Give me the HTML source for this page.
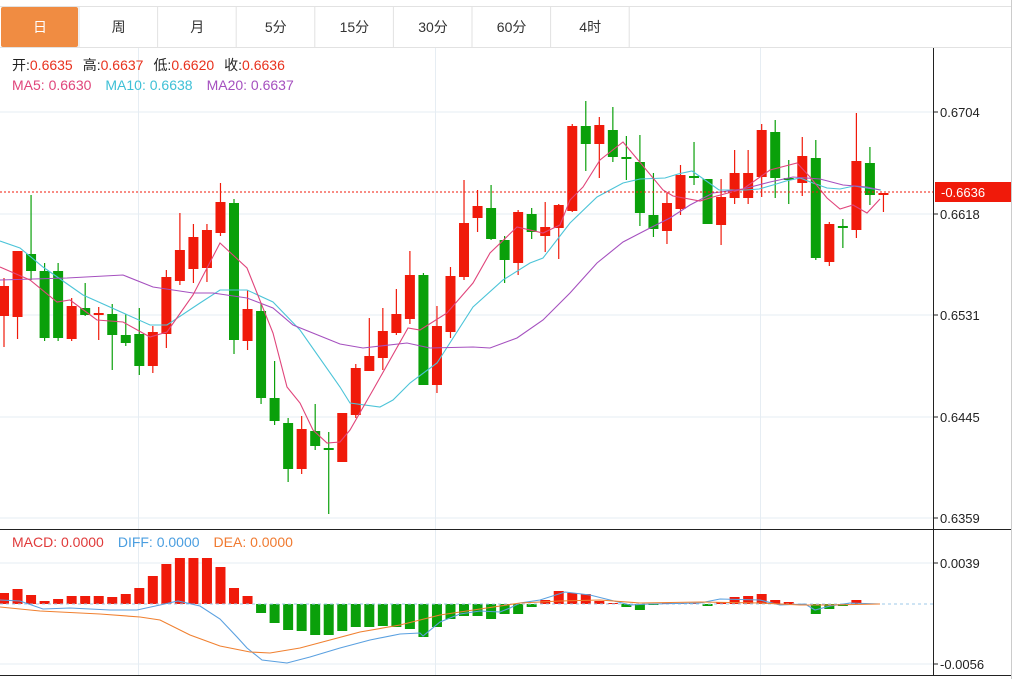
<!DOCTYPE html>
<html><head><meta charset="utf-8"><style>
body{margin:0;background:#fff;width:1023px;height:679px;overflow:hidden;font-family:"Liberation Sans","Noto Sans CJK SC",sans-serif}
svg{position:absolute;left:0;top:0}
</style></head><body>
<svg id="s" width="1023" height="679" xmlns="http://www.w3.org/2000/svg" font-family="Liberation Sans, Noto Sans CJK SC, sans-serif">
<rect width="1023" height="679" fill="#fff"/>
<g id="g"></g>
</svg>
<script>
const g=document.getElementById('g');let h='';
h+='<line x1="0" y1="6.5" x2="1011" y2="6.5" stroke="#e2e2e2"/>';
h+='<line x1="0" y1="47.5" x2="1011" y2="47.5" stroke="#e2e2e2"/>';
const tabs=['日','周','月','5分','15分','30分','60分','4时'];
tabs.forEach((t,i)=>{const x=1+i*78.6;
 if(i==0)h+='<rect x="1" y="7" width="77" height="40" rx="2" fill="#f08c42"/>';
 h+='<line x1="'+(x+78)+'" y1="7" x2="'+(x+78)+'" y2="47" stroke="#e2e2e2"/>';
 h+='<text x="'+(x+39)+'" y="32" font-size="14" text-anchor="middle" fill="'+(i==0?'#fff':'#333')+'">'+t+'</text>';});
[112,214,315,417,518].forEach(y=>h+='<line x1="0" y1="'+y+'" x2="933" y2="'+y+'" stroke="#e6edf3"/>');
[563,664].forEach(y=>h+='<line x1="0" y1="'+y+'" x2="933" y2="'+y+'" stroke="#e6edf3"/>');
[138.5,435.5,760.5].forEach(x=>h+='<line x1="'+x+'" y1="48" x2="'+x+'" y2="675" stroke="#e6edf3"/>');
h+='<line x1="933.5" y1="48" x2="933.5" y2="675" stroke="#222"/>';
h+='<line x1="1011.5" y1="0" x2="1011.5" y2="679" stroke="#ccc"/>';
h+='<line x1="0" y1="529.5" x2="1011" y2="529.5" stroke="#222"/>';
h+='<line x1="0" y1="675.5" x2="1011" y2="675.5" stroke="#222"/>';
[[112,'0.6704'],[214,'0.6618'],[315,'0.6531'],[417,'0.6445'],[518,'0.6359'],[563,'0.0039'],[664,'-0.0056']].forEach(([y,t])=>{
 h+='<line x1="933" y1="'+y+'" x2="938" y2="'+y+'" stroke="#222"/><text x="940" y="'+(y+5)+'" font-size="13" fill="#222">'+t+'</text>';});
const C=[[316,286,278,347],[317,251,251,339],[254,271,195,280],[271,338,263,341],[271,338,263,341],[339,306,298,341],[308,315,283,316],[315,313,307,340],[314,335,304,370],[335,343,314,346],[334,366,308,375],[366,332,326,373],[334,277,270,348],[281,250,213,285],[269,237,224,283],[268,230,224,282],[233,202,183,236],[203,340,199,354],[341,309,290,350],[311,398,303,404],[398,421,361,425],[423,469,418,482],[469,429,416,474],[431,446,404,450],[448,449,432,514],[462,413,413,462],[415,368,364,418],[371,356,318,371],[358,331,308,370],[333,314,289,335],[319,275,251,324],[275,385,273,385],[385,326,306,393],[332,276,267,338],[277,223,180,280],[218,206,190,232],[208,239,185,240],[240,260,236,283],[263,212,210,275],[214,232,208,239],[236,227,202,252],[228,205,204,259],[211,126,124,212],[126,144,101,171],[144,125,117,178],[130,157,107,162],[157,159,136,180],[162,213,135,226],[215,229,173,237],[231,203,193,244],[209,175,165,215],[176,178,142,185],[179,224,179,224],[225,197,179,245],[198,173,150,204],[198,173,150,204],[177,130,124,197],[132,178,120,198],[178,180,160,204],[183,156,137,196],[158,258,140,260],[262,224,222,266],[226,228,219,248],[230,161,113,238],[163,195,147,205],[194,193,193,212]];
const X=i=>4+i*13.53;
C.forEach((c,i)=>{const[o,cl,hi,lo]=c;const up=cl<o;const col=up?'#f01a0a':'#0aa00a';const x=X(i);
 h+='<line x1="'+x+'" y1="'+hi+'" x2="'+x+'" y2="'+lo+'" stroke="'+col+'" stroke-width="1.2"/>';
 const t=Math.min(o,cl),b=Math.max(o,cl);h+='<rect x="'+(x-5)+'" y="'+t+'" width="10" height="'+Math.max(b-t,2)+'" fill="'+col+'"/>';});
const pl=(p,c)=>h+='<polyline fill="none" stroke="'+c+'" stroke-width="1.1" points="'+p.map(q=>q.join(',')).join(' ')+'"/>';
pl([[0,241],[20,248],[43,267],[83,295],[150,325],[167,325],[200,303],[220,290],[247,290],[273,302],[300,330],[340,387],[350,403],[380,407],[393,400],[410,383],[437,363],[473,307],[503,280],[530,263],[543,258],[570,223],[597,197],[623,183],[640,179],[665,178],[678,174],[692,171],[705,180],[719,190],[746,190],[759,189],[773,185],[786,181],[800,178],[813,183],[827,188],[840,189],[854,186],[867,188],[881,190]],'#4cc4d8');
pl([[0,280],[67,278],[123,275],[153,287],[193,293],[213,293],[247,298],[273,308],[293,325],[340,344],[363,348],[407,343],[430,348],[473,347],[490,348],[517,338],[543,320],[570,293],[597,263],[623,242],[650,228],[670,218],[690,205],[713,193],[743,189],[770,182],[793,177],[820,179],[843,185],[867,187],[880,190]],'#a550bf');
pl([[0,267],[30,280],[57,302],[70,300],[97,320],[123,322],[150,337],[167,332],[193,295],[220,243],[247,268],[273,333],[287,387],[300,403],[313,430],[327,443],[340,442],[350,430],[373,390],[408,328],[420,330],[447,313],[473,283],[490,253],[517,227],[543,233],[560,225],[570,200],[583,187],[600,160],[623,142],[663,190],[673,196],[700,201],[713,197],[743,189],[770,170],[797,163],[810,177],[827,198],[840,209],[853,205],[867,213],[880,199]],'#e0457b');
h+='<line x1="0" y1="192" x2="933" y2="192" stroke="#f01a0a" stroke-dasharray="2,2"/>';
h+='<rect x="935" y="182" width="76" height="20" fill="#f01a0a"/><text x="941" y="197" font-size="13" fill="#fff">-0.6636</text>';
const M=[593,589,595,601,599,596,596,596,597,594,588,576,564,558,558,558,567,588,596,613,623,630,631,635,635,631,627,627,626,627,629,637,627,619,616,616,619,614,614,607,600,591,593,594,601,603,607,610,605,603,603,603,606,602,597,596,594,600,602,604,614,609,606,600,604,604];
const Z=604;
M.forEach((y,i)=>{const x=X(i);const up=y<Z;const t=Math.min(y,Z),b=Math.max(y,Z);
 if(b-t>0.5)h+='<rect x="'+(x-5)+'" y="'+t+'" width="10" height="'+(b-t)+'" fill="'+(up?'#f01a0a':'#0aa00a')+'"/>';});
h+='<line x1="0" y1="604" x2="933" y2="604" stroke="#9cc8e8" stroke-dasharray="3,3"/>';
pl([[0,600],[20,601],[43,609],[70,608],[110,610],[137,610],[160,605],[178,601],[200,606],[220,619],[237,637],[247,648],[262,660],[287,663],[310,657],[340,648],[370,640],[400,634],[420,633],[423,636],[440,622],[460,614],[480,611],[500,612],[510,608],[520,603],[540,600],[565,592],[590,595],[610,600],[630,605],[650,604],[700,603],[720,599],[760,600],[780,605],[805,604],[815,610],[830,606],[850,603],[880,604]],'#5aa0e0');
pl([[0,607],[40,611],[100,614],[140,617],[160,620],[190,635],[220,646],[250,652],[270,653],[300,648],[330,640],[360,632],[400,625],[440,615],[480,609],[520,603],[560,601],[600,600],[640,603],[700,602],[760,603],[800,605],[830,605],[880,604]],'#f08030');
h+='<text y="70" font-size="14"><tspan x="12" fill="#222">开:</tspan><tspan fill="#e8321e">0.6635</tspan><tspan dx="10" fill="#222">高:</tspan><tspan fill="#e8321e">0.6637</tspan><tspan dx="10" fill="#222">低:</tspan><tspan fill="#e8321e">0.6620</tspan><tspan dx="10" fill="#222">收:</tspan><tspan fill="#e8321e">0.6636</tspan></text>';
h+='<text y="90" font-size="14"><tspan x="12" fill="#e0457b">MA5: 0.6630</tspan><tspan dx="14" fill="#3ec0d6">MA10: 0.6638</tspan><tspan dx="14" fill="#a550bf">MA20: 0.6637</tspan></text>';
h+='<text y="547" font-size="14"><tspan x="12" fill="#e03a3a">MACD: 0.0000</tspan><tspan dx="14" fill="#4a9ee0">DIFF: 0.0000</tspan><tspan dx="14" fill="#f07a30">DEA: 0.0000</tspan></text>';
g.innerHTML=h;
</script>
</body></html>
